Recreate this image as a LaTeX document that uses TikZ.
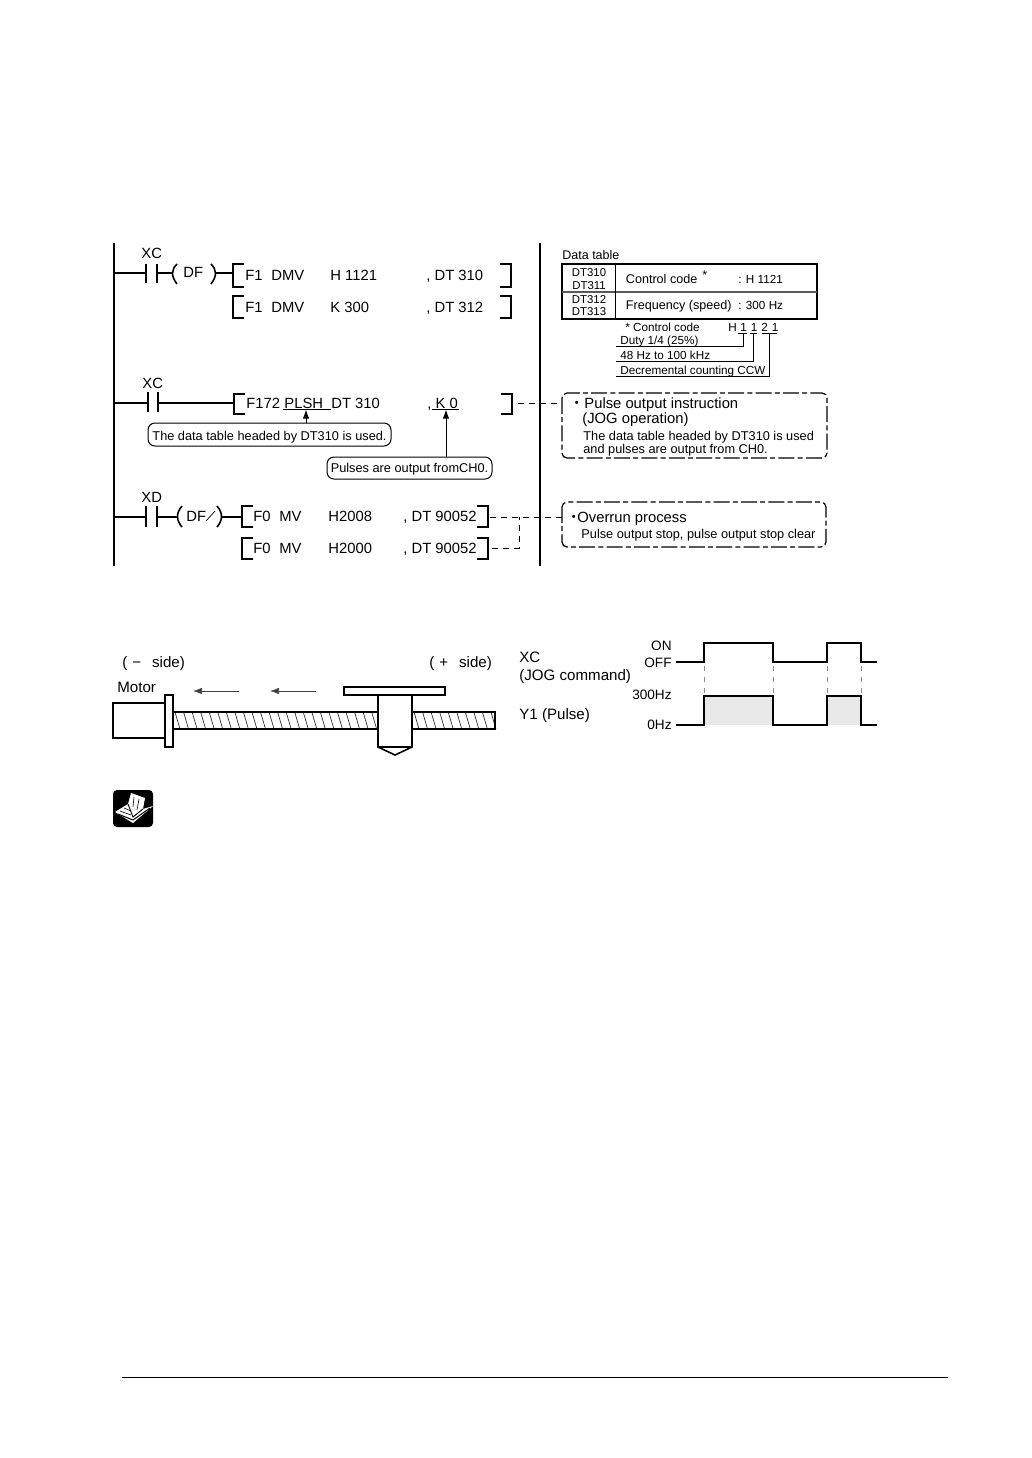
\documentclass[tikz,border=0pt]{standalone}
\usepackage{fontspec}
\setmainfont{Liberation Sans}
\newfontfamily\cjk{Noto Sans CJK JP}
\usetikzlibrary{arrows.meta,calc}
\tikzset{
  x=0.5pt,y=-0.5pt,
  rail/.style={line width=1pt},
  wire/.style={line width=0.8pt},
  brk/.style={line width=1.1pt},
  thin line/.style={line width=0.5pt},
  dashl/.style={line width=0.45pt,dash pattern=on 3pt off 2.5pt},
  dotbox/.style={line width=0.6pt,rounded corners=2.5pt,dash pattern=on 8pt off 1.6pt on 2.5pt off 1.6pt},
  callout/.style={draw,line width=0.5pt,rounded corners=3.5pt,inner sep=0pt,align=center},
  ptr/.style={line width=0.5pt,-{Latex[length=4.5pt,width=3.2pt]}},
  lbl/.style={anchor=base west,inner sep=0pt,font=\fontsize{7.4}{9}\selectfont},
  big/.style={anchor=base west,inner sep=0pt,font=\fontsize{7.55}{9}\selectfont},
  lblr/.style={anchor=base east,inner sep=0pt,font=\fontsize{6.8}{9}\selectfont},
  sm/.style={anchor=base west,inner sep=0pt,font=\fontsize{6.38}{8}\selectfont},
  tb/.style={anchor=base,inner sep=0pt,font=\fontsize{5.7}{7}\selectfont},
  tiny/.style={anchor=base west,inner sep=0pt,font=\fontsize{5.85}{7}\selectfont},
  head/.style={anchor=base west,inner sep=0pt,font=\fontsize{7.4}{9}\selectfont},
}
\begin{document}
\begin{tikzpicture}
\useasboundingbox (0,0) rectangle (1032,1458);
% rails
\coordinate (railLt) at (114,243); \coordinate (railLb) at (114,566);
\coordinate (railRt) at (540,243); \coordinate (railRb) at (540,566);
\draw[rail] (railLt) -- (railLb);
\draw[rail] (railRt) -- (railRb);
% rung 1
\coordinate (r1c1) at (146,273); \coordinate (r1c2) at (157,273);
\coordinate (r1p1) at (172,273); \coordinate (r1p2) at (216,273); \coordinate (r1b) at (233,273);
\draw[wire] (railLt |- r1c1) -- (r1c1);
\draw[wire] (146,264) -- (146,283);
\draw[wire] (157,264) -- (157,283);
\draw[wire] (r1c2) -- (r1p1);
\draw[wire] (177,264) .. controls (171,270) and (171,276) .. (177,284);
\draw[wire] (211,264) .. controls (217,270) and (217,276) .. (211,284);
\draw[wire] (r1p2) -- (r1b);
\node[lbl] (xc1) at (141,258) {XC};
\node[lbl] (df1) at (183,277) {DF};
\draw[brk] (244,264) -- (233,264) -- (233,287) -- (244,287);
\node[lbl] (a1) at (245,280) {F1};
\node[lbl] (a2) at (271,280) {DMV};
\node[lbl] (a3) at (330,280) {H 1121};
\node[lbl] (a4) at (426,280) {, DT 310};
\draw[brk] (500,264) -- (511,264) -- (511,287) -- (500,287);
\draw[brk] (244,296) -- (233,296) -- (233,318) -- (244,318);
\node[lbl] (b1) at (245,312) {F1};
\node[lbl] (b2) at (271,312) {DMV};
\node[lbl] (b3) at (330,312) {K 300};
\node[lbl] (b4) at (426,312) {, DT 312};
\draw[brk] (500,296) -- (511,296) -- (511,318) -- (500,318);
% rung 2
\coordinate (r2c1) at (148,403); \coordinate (r2c2) at (158,403); \coordinate (r2b) at (234,403);
\draw[wire] (railLt |- r2c1) -- (r2c1);
\draw[wire] (148,392) -- (148,412);
\draw[wire] (158,392) -- (158,412);
\draw[wire] (r2c2) -- (r2b);
\node[lbl] (xc2) at (142,388) {XC};
\draw[brk] (245,394) -- (234,394) -- (234,414) -- (245,414);
\node[lbl] (c1) at (246,408) {F172};
\node[lbl] (c2) at (284,408) {PLSH};
\node[lbl] (c3) at (331,408) {DT 310};
\node[lbl] (c4) at (427,408) {, K 0};
\draw[brk] (501,394) -- (512,394) -- (512,414) -- (501,414);
\coordinate (ulA) at (283,409); \coordinate (ulB) at (331,409);
\coordinate (ulC) at (432,409); \coordinate (ulD) at (459,409);
\draw[thin line] (ulA) -- (ulB);
\draw[thin line] (ulC) -- (ulD);
\node[callout,minimum width=121.5pt,minimum height=11.5pt,text height=5.5pt,text depth=0pt] (note1) at (269.5,434.5) {\fontsize{6.38}{8}\selectfont The data table headed by DT310 is used.};
\node[callout,minimum width=82.5pt,minimum height=11pt,text height=4.6pt,text depth=0pt] (note2) at (409.5,468) {\fontsize{6.38}{8}\selectfont Pulses are output fromCH0.};
\coordinate (tipA) at (306,409.5);
\coordinate (tipB) at (446,409.5);
\draw[ptr] (note1.north -| tipA) -- (tipA);
\draw[ptr] (note2.north -| tipB) -- (tipB);
% rung 3
\coordinate (r3c1) at (146,517); \coordinate (r3c2) at (157,517);
\coordinate (r3p1) at (177,517); \coordinate (r3p2) at (222,517); \coordinate (r3b) at (242,517);
\draw[wire] (railLt |- r3c1) -- (r3c1);
\draw[wire] (146,506) -- (146,527);
\draw[wire] (157,506) -- (157,527);
\draw[wire] (r3c2) -- (r3p1);
\draw[wire] (182,506) .. controls (176,513) and (176,520) .. (182,527);
\draw[wire] (217,506) .. controls (223,513) and (223,520) .. (217,527);
\draw[wire] (r3p2) -- (r3b);
\node[lbl] (xd) at (141,502) {XD};
\node[lbl] (df2) at (186,521) {DF};
\draw[line width=0.35pt] (206,521) -- (215,511);
\draw[brk] (253,506) -- (242,506) -- (242,527) -- (253,527);
\node[lbl] (d1) at (253,521) {F0};
\node[lbl] (d2) at (279,521) {MV};
\node[lbl] (d3) at (328,521) {H2008};
\node[lbl] (d4) at (403,521) {, DT 90052};
\draw[brk] (477,506) -- (488,506) -- (488,527) -- (477,527);
\draw[brk] (253,538) -- (242,538) -- (242,559) -- (253,559);
\node[lbl] (e1) at (253,553) {F0};
\node[lbl] (e2) at (279,553) {MV};
\node[lbl] (e3) at (328,553) {H2000};
\node[lbl] (e4) at (403,553) {, DT 90052};
\draw[brk] (477,538) -- (488,538) -- (488,559) -- (477,559);
% data table
\node[anchor=base west,inner sep=0pt,font=\fontsize{6.25}{8}\selectfont] (dtt) at (562,259) {Data table};
\draw[line width=0.55pt] (562,264) rectangle (817,319);
\draw[line width=0.6pt,black!65] (562,292) -- (817,292);
\draw[line width=0.45pt] (615,264) -- (615,319);
\node[tb] (t1) at (589,276) {DT310};
\node[tb] (t2) at (589,289) {DT311};
\node[tb] (t3) at (589,303) {DT312};
\node[tb] (t4) at (589,315) {DT313};
\node[anchor=base west,inner sep=0pt,font=\fontsize{6.3}{8}\selectfont] (t5) at (625.5,283) {Control code};
\node[sm] (t6) at (702,279) {*};
\node[tiny] (t7) at (738,283) {: H 1121};
\node[anchor=base west,inner sep=0pt,font=\fontsize{6.3}{8}\selectfont] (t8) at (625.5,309) {Frequency (speed)};
\node[tiny] (t9) at (738,309) {: 300 Hz};
\node[tiny] (u1) at (625,331) {* Control code};
\node[tiny] (u2) at (728,331) {H};
\node[tiny] (u3) at (740,331) {1};
\node[tiny] (u4) at (750.5,331) {1};
\node[tiny] (u5) at (761,331) {2};
\node[tiny] (u6) at (771.5,331) {1};
\node[tiny] (u7) at (620,344) {Duty 1/4 (25\%)};
\node[tiny] (u8) at (620,359) {48 Hz to 100 kHz};
\node[tiny] (u9) at (620,374) {Decremental counting CCW};
\draw[thin line] (738,333) -- (747,333);
\draw[thin line] (750,333) -- (757,333);
\draw[thin line] (762,333) -- (777,333);
\draw[thin line] (616,346) -- (743,346) -- (743,333);
\draw[thin line] (616,361) -- (753,361) -- (753,333);
\draw[thin line] (616,376) -- (769,376) -- (769,333);
% dash-dot boxes
\coordinate (bx1a) at (562,393); \coordinate (bx1b) at (827,458);
\coordinate (bx2a) at (562,502); \coordinate (bx2b) at (826,547);
\draw[dotbox] (bx1a) rectangle (bx1b);
\draw[dotbox] (bx2a) rectangle (bx2b);
\node[head,font=\fontsize{7.4}{9}\cjk] (p0) at (569,408) {・};
\node[head] (p1) at (584,408) {Pulse output instruction};
\node[head] (p2) at (582,423) {(JOG operation)};
\node[sm] (p3) at (583,440) {The data table headed by DT310 is used};
\node[sm] (p4) at (583,453) {and pulses are output from CH0.};
\node[head,font=\fontsize{7.4}{9}\cjk] (q0) at (566,522) {・};
\node[head] (q1) at (577,522) {Overrun process};
\node[sm] (q2) at (581,538) {Pulse output stop, pulse output stop clear};
% dashed connectors
\coordinate (da) at (518,403); \coordinate (db) at (562,403);
\coordinate (dc) at (490,517); \coordinate (dd) at (562,517);
\coordinate (de) at (492,548); \coordinate (df) at (519,548); \coordinate (dg) at (519,517);
\draw[dashl] (da) -- (db);
\draw[dashl] (dc) -- (dd);
\draw[dashl] (de) -- (df) -- (dg);
% screw
\foreach \i in {0,...,23}{\draw[line width=0.35pt,black!80] ({175+8.55*\i},712) -- ({180+8.55*\i},729);}
\foreach \i in {0,...,9}{\draw[line width=0.35pt,black!80] ({414+8.55*\i},712) -- ({419+8.55*\i},729);}
\draw[line width=0.8pt] (113,703) rectangle (165,738);
\draw[line width=0.8pt] (165,695) rectangle (173,747);
\draw[line width=0.8pt] (344,687) rectangle (445,695);
\draw[line width=0.7pt] (173,712) -- (378,712) (173,729) -- (378,729);
\draw[line width=0.7pt] (412,712) -- (495,712) -- (495,729) -- (412,729);
\draw[line width=0.8pt] (378,695) -- (378,747) -- (395,755) -- (412,747) -- (412,695);
\draw[line width=0.8pt] (378,747) -- (412,747);
\coordinate (ar1a) at (239,691); \coordinate (ar1b) at (193,691);
\coordinate (ar2a) at (316,691); \coordinate (ar2b) at (270,691);
\draw[ptr,line width=0.3pt,black!75] (ar1a) -- (ar1b);
\draw[ptr,line width=0.3pt,black!75] (ar2a) -- (ar2b);
\node[big] (s1) at (122,667) {(\,\,−\ \ \,side)};
\node[big] (s2) at (429,667) {(\,\,+\ \ \,side)};
\node[big] (s3) at (117,692) {Motor};
% timing
\coordinate (w0) at (676,662); \coordinate (w1) at (877,662);
\draw[wire] (w0) -- (704,662) -- (704,643) -- (773,643) -- (773,662) -- (827,662) -- (827,643) -- (861,643) -- (861,662) -- (w1);
\fill[black!9] (704,696) rectangle (773,725);
\fill[black!9] (827,696) rectangle (861,725);
\coordinate (w2) at (676,725); \coordinate (w3) at (877,725);
\draw[wire] (w2) -- (704,725) -- (704,696) -- (773,696) -- (773,725) -- (827,725) -- (827,696) -- (861,696) -- (861,725) -- (w3);
\foreach \x in {704,773,827,861}{\draw[line width=0.25pt,black!45,dash pattern=on 2.5pt off 3pt] (\x,666) -- (\x,694);}
\node[big] (l1) at (519,662) {XC};
\node[big] (l2) at (519,680) {(JOG command)};
\node[big] (l3) at (519,719) {Y1 (Pulse)};
\node[lblr] (l4) at (672,650) {ON};
\node[lblr] (l5) at (672,667) {OFF};
\node[lblr] (l6) at (672,699) {300Hz};
\node[lblr] (l7) at (672,729) {0Hz};
% book icon
\fill[black,rounded corners=2pt] (113,790) rectangle (153,827);
\fill[white] (115,812) -- (128,804) -- (131,793) -- (145,798) -- (143,809) -- (153,806) -- (133,823) -- cycle;
\draw[black,line width=0.45pt] (128,804) -- (133,817) -- (143,809);
\draw[black,line width=0.3pt] (134,797) -- (133,807) (139,799) -- (137,810);
\draw[black,line width=0.3pt] (120,811) -- (131,815) (124,808) -- (131,811);
\draw[black,line width=0.5pt] (118,814) -- (133,820) -- (150,808);
% footer
\coordinate (fa) at (122,1377); \coordinate (fb) at (948,1377);
\draw[line width=0.5pt] (fa) -- (fb);
\end{tikzpicture}
\end{document}
